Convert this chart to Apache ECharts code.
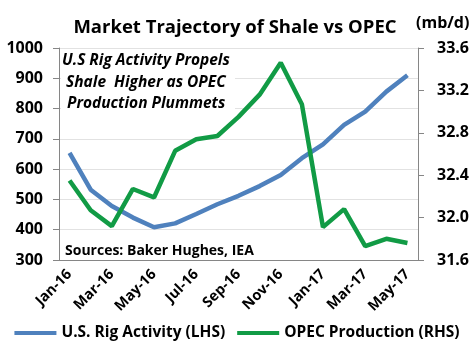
<!DOCTYPE html>
<html><head><meta charset="utf-8">
<script src="https://cdn.jsdelivr.net/npm/echarts@6/dist/echarts.min.js"></script>
<style>html,body{margin:0;padding:0;background:#fff}#c{width:474px;height:348px}</style>
</head><body><div id="c"></div>
<script>
var categories = ['Jan-16','Feb-16','Mar-16','Apr-16','May-16','Jun-16','Jul-16','Aug-16','Sep-16','Oct-16','Nov-16','Dec-16','Jan-17','Feb-17','Mar-17','Apr-17','May-17'];
var rigActivity = [654, 532, 478, 440, 408, 421, 452, 484, 512, 544, 581, 636, 682, 746, 790, 856, 910];
var opecProduction = [32.35, 32.07, 31.92, 32.27, 32.19, 32.63, 32.74, 32.77, 32.95, 33.16, 33.46, 33.07, 31.91, 32.08, 31.73, 31.80, 31.76];
var leftTicks = [300, 1000, 100];
var rightTicks = [31.6, 33.6, 0.4];

var FONT = 'Open Sans';
var chart = echarts.init(document.getElementById('c'));
chart.setOption({
  animation: false,
  textStyle: {fontFamily: FONT},
  title: {
    text: 'Market Trajectory of Shale vs OPEC',
    left: 230, top: 13, textAlign: 'center',
    textStyle: {fontFamily: FONT, fontSize: 18.5, fontWeight: 'bold', color: '#000'}
  },
  graphic: [
    {type: 'text', left: 416, top: 15, style: {text: '(mb/d)', font: 'bold 16px "Open Sans"', fill: '#000'}},
    {type: 'rect', left: 61, top: 53, shape: {width: 174, height: 64}, style: {fill: '#fff'}, z: 1},
    {type: 'text', left: 62, top: 53, z: 2, style: {text: 'U.S Rig Activity Propels', font: 'italic bold 15.5px "Open Sans"', fill: '#000'}},
    {type: 'text', left: 66, top: 75, z: 2, style: {text: 'Shale  Higher as OPEC', font: 'italic bold 15.5px "Open Sans"', fill: '#000'}},
    {type: 'text', left: 67, top: 96, z: 2, style: {text: 'Production Plummets', font: 'italic bold 15.5px "Open Sans"', fill: '#000'}},
    {type: 'text', left: 65, top: 244, z: 2, style: {text: 'Sources: Baker Hughes, IEA', font: 'bold 14px "Open Sans"', fill: '#000'}}
  ],
  legend: {
    top: 320, left: 'center', itemGap: 12, itemWidth: 42, itemHeight: 4, icon: 'rect',
    textStyle: {fontFamily: FONT, fontSize: 15.5, fontWeight: 'bold', color: '#000'},
    data: ['U.S. Rig Activity (LHS)', 'OPEC Production (RHS)']
  },
  grid: {left: 59, right: 56, top: 48, bottom: 88},
  xAxis: {
    type: 'category', data: categories, boundaryGap: true,
    axisLine: {lineStyle: {color: '#868686', width: 1}},
    axisTick: {interval: 1, length: 6, lineStyle: {color: '#868686'}},
    axisLabel: {interval: 1, rotate: 45, fontFamily: FONT, fontSize: 14.5, fontWeight: 'bold', color: '#000', margin: 12}
  },
  yAxis: [
    {type: 'value', min: leftTicks[0], max: leftTicks[1], interval: leftTicks[2],
     axisLine: {show: true, lineStyle: {color: '#868686'}},
     axisTick: {show: true, inside: false, length: 6, lineStyle: {color: '#868686'}},
     splitLine: {lineStyle: {color: '#e2e2e2', width: 1}},
     axisLabel: {fontFamily: FONT, fontSize: 16, fontWeight: 'bold', color: '#000', margin: 16,
       formatter: function (v) { return String(v); }}},
    {type: 'value', min: rightTicks[0], max: rightTicks[1], interval: rightTicks[2], position: 'right',
     axisLine: {show: true, lineStyle: {color: '#868686'}},
     axisTick: {show: true, length: 6, lineStyle: {color: '#868686'}},
     splitLine: {show: false},
     axisLabel: {fontFamily: FONT, fontSize: 16, fontWeight: 'bold', color: '#000', margin: 19,
       formatter: function (v) { return v.toFixed(1); }}}
  ],
  series: [
    {name: 'U.S. Rig Activity (LHS)', type: 'line', yAxisIndex: 0, data: rigActivity, symbol: 'none', z: 3,
     lineStyle: {color: '#4f81bd', width: 4.5}, itemStyle: {color: '#4f81bd'}},
    {name: 'OPEC Production (RHS)', type: 'line', yAxisIndex: 1, data: opecProduction, symbol: 'none', z: 3,
     lineStyle: {color: '#119b45', width: 4.5}, itemStyle: {color: '#119b45'}}
  ]
});
</script></body></html>
